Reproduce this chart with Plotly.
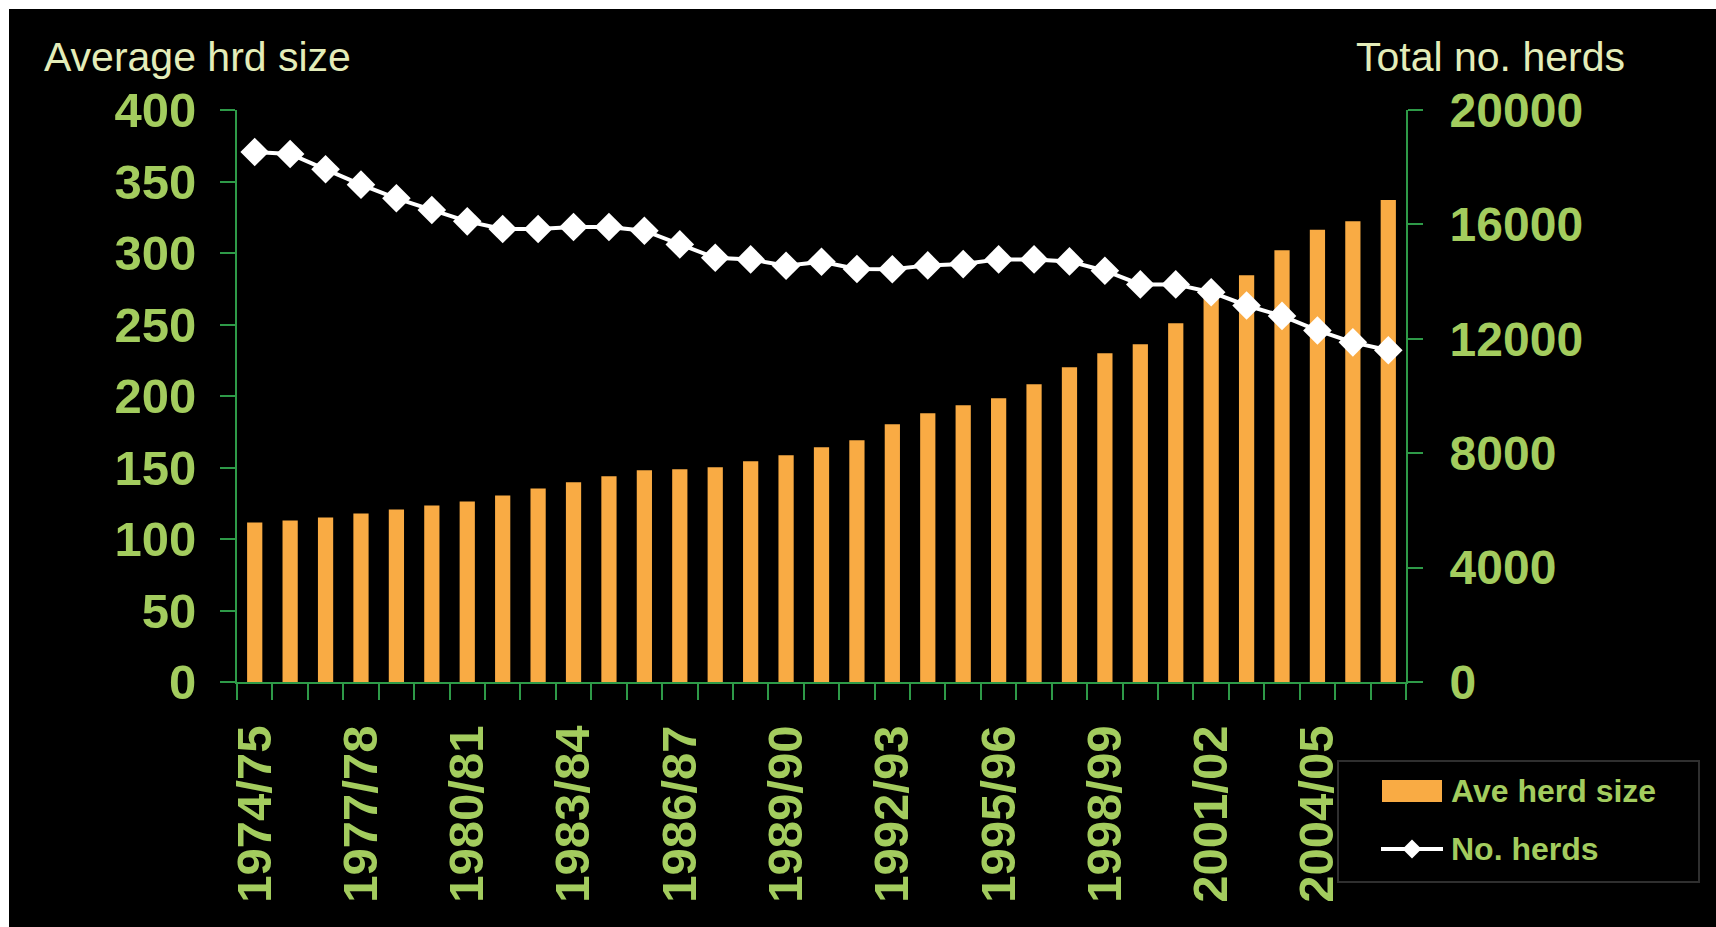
import plotly.graph_objects as go

seasons = ["1974/75", "1975/76", "1976/77", "1977/78", "1978/79", "1979/80", "1980/81",
           "1981/82", "1982/83", "1983/84", "1984/85", "1985/86", "1986/87", "1987/88",
           "1988/89", "1989/90", "1990/91", "1991/92", "1992/93", "1993/94", "1994/95",
           "1995/96", "1996/97", "1997/98", "1998/99", "1999/00", "2000/01", "2001/02",
           "2002/03", "2003/04", "2004/05", "2005/06", "2006/07"]

labelled_seasons = ["1974/75", "1977/78", "1980/81", "1983/84", "1986/87", "1989/90",
                    "1992/93", "1995/96", "1998/99", "2001/02", "2004/05"]

ave_herd_size = [111.6, 113, 115.1, 117.9, 120.7, 123.5, 126.3, 130.5, 135.4, 139.6,
                 143.8, 148, 148.7, 150.1, 154.3, 158.5, 164.1, 169, 180.2, 187.9,
                 193.5, 198.4, 208.2, 220.1, 229.9, 236.2, 250.9, 271, 284.5, 302,
                 316.2, 322.2, 337.1]

no_herds = [18533, 18463, 17927, 17389, 16912, 16502, 16107, 15837, 15837, 15907,
            15907, 15779, 15301, 14833, 14777, 14553, 14693, 14440, 14430, 14567,
            14612, 14777, 14777, 14707, 14380, 13902, 13902, 13630, 13165, 12800,
            12292, 11876, 11599]

left_ticks = [0, 50, 100, 150, 200, 250, 300, 350, 400]
right_ticks = [0, 4000, 8000, 12000, 16000, 20000]
right_tick_text = ["0", "4000", "8000", "12000", "16000", "20000"]

series_names = ["Ave herd size", "No. herds"]
axis_titles = ["Average hrd size", "Total no. herds"]

GREEN_TXT = "#A3CC5E"
GREEN_AX = "#2E9A48"
ORANGE = "#F9AB44"
PALE = "#E4EDB9"
FONT = "Liberation Sans, Arial, sans-serif"

W, H = 1716, 927
ML, MR, MT, MB = 237, 310, 110, 245
PW, PH = W - ML - MR, H - MT - MB


def px_x(px):
    return (px - ML) / PW


def px_y(py):
    return (H - MB - py) / PH


tick_text = [s if s in labelled_seasons else "" for s in seasons]

fig = go.Figure()
fig.add_trace(go.Bar(
    x=seasons, y=ave_herd_size, name=series_names[0],
    marker=dict(color=ORANGE, line=dict(width=0)),
    yaxis="y", showlegend=False,
))
fig.add_trace(go.Scatter(
    x=seasons, y=no_herds, name=series_names[1], mode="lines+markers",
    line=dict(color="white", width=4),
    marker=dict(symbol="diamond", size=22, color="white"),
    yaxis="y2", cliponaxis=False, showlegend=False,
))

axis_common = dict(
    showgrid=False, zeroline=False, showline=True, linecolor=GREEN_AX, linewidth=2,
    ticks="outside", tickcolor=GREEN_AX, tickwidth=2,
)

# legend drawn as a boxed key (pixel positions converted to paper units)
dcx, dcy, dh = 1412, 849, 9.5
legend_shapes = [
    dict(type="rect", xref="paper", yref="paper", x0=px_x(1338), x1=px_x(1699),
         y0=px_y(882), y1=px_y(761), fillcolor="black",
         line=dict(color="#2f2f2f", width=2), layer="above"),
    dict(type="rect", xref="paper", yref="paper", x0=px_x(1382), x1=px_x(1442),
         y0=px_y(802), y1=px_y(780), fillcolor=ORANGE, line=dict(width=0), layer="above"),
    dict(type="line", xref="paper", yref="paper", x0=px_x(1381), x1=px_x(1443),
         y0=px_y(dcy), y1=px_y(dcy), line=dict(color="white", width=4), layer="above"),
    dict(type="path", xref="paper", yref="paper", layer="above",
         path=(f"M{px_x(dcx - dh)},{px_y(dcy)} L{px_x(dcx)},{px_y(dcy + dh)} "
               f"L{px_x(dcx + dh)},{px_y(dcy)} L{px_x(dcx)},{px_y(dcy - dh)} Z"),
         fillcolor="white", line=dict(width=0)),
]

fig.update_layout(
    width=W, height=H,
    margin=dict(l=ML, r=MR, t=MT, b=MB, pad=0),
    paper_bgcolor="white", plot_bgcolor="black",
    bargap=0.57,
    showlegend=False,
    xaxis=dict(
        **axis_common, type="category", tickmode="array", tickvals=seasons, ticktext=tick_text,
        tickangle=-90, tickson="boundaries", ticklen=16, ticklabelstandoff=22,
        tickfont=dict(family=FONT, size=49, color=GREEN_TXT, weight="bold"),
        range=[-0.5, len(seasons) - 0.5],
    ),
    yaxis=dict(
        **axis_common, range=[0, 400], tickvals=left_ticks, ticklen=15, ticklabelstandoff=14,
        tickfont=dict(family=FONT, size=49, color=GREEN_TXT, weight="bold"),
    ),
    yaxis2=dict(
        **axis_common, range=[0, 20000], tickmode="array", tickvals=right_ticks,
        ticktext=right_tick_text, overlaying="y", side="right",
        ticklen=15, ticklabelstandoff=17,
        tickfont=dict(family=FONT, size=48, color=GREEN_TXT, weight="bold"),
    ),
    shapes=[dict(type="rect", xref="paper", yref="paper", x0=px_x(9), x1=px_x(W + 50),
                 y0=px_y(H + 50), y1=px_y(9), fillcolor="black", line=dict(width=0),
                 layer="below")] + legend_shapes,
    annotations=[
        dict(text=axis_titles[0], xref="paper", yref="paper", x=px_x(42), y=px_y(57),
             xanchor="left", yanchor="middle", showarrow=False,
             font=dict(family=FONT, size=41, color=PALE)),
        dict(text=axis_titles[1], xref="paper", yref="paper", x=px_x(1626.5), y=px_y(57),
             xanchor="right", yanchor="middle", showarrow=False,
             font=dict(family=FONT, size=41, color=PALE)),
        dict(text=series_names[0], xref="paper", yref="paper", x=px_x(1449), y=px_y(791),
             xanchor="left", yanchor="middle", showarrow=False,
             font=dict(family=FONT, size=32, color=GREEN_TXT, weight="bold")),
        dict(text=series_names[1], xref="paper", yref="paper", x=px_x(1449), y=px_y(849),
             xanchor="left", yanchor="middle", showarrow=False,
             font=dict(family=FONT, size=32, color=GREEN_TXT, weight="bold")),
    ],
)

fig.write_html("out.html", config={"displayModeBar": False},
               post_script="document.body.style.margin='0';document.body.style.overflow='hidden';")
